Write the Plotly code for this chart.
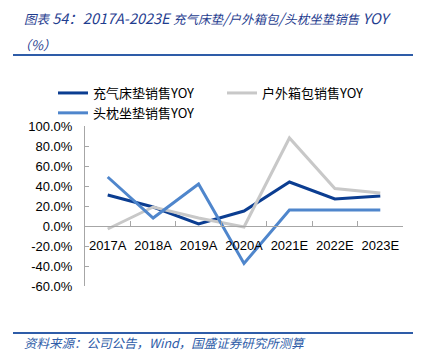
import plotly.graph_objects as go

categories = ["2017A", "2018A", "2019A", "2020A", "2021E", "2022E", "2023E"]
mattress_yoy = [31, 19, 2, 15, 44, 27, 30]
outdoor_bag_yoy = [-3, 19, 8, -1, 88, 37.5, 33]
cushion_yoy = [49, 8, 42, -37.5, 16, 16, 16]
series_names = ["充气床垫销售YOY", "户外箱包销售YOY", "头枕坐垫销售YOY"]
series_colors = ["#0B3D91", "#C8C8C8", "#4F86CC"]
y_ticks = [-60, -40, -20, 0, 20, 40, 60, 80, 100]

title_parts = [("图表", "cjk"), (" 54：2017A-2023E ", "lat"), ("充气床垫", "cjk"), ("/", "lat"),
               ("户外箱包", "cjk"), ("/", "lat"), ("头枕坐垫销售", "cjk"), (" YOY", "lat")]
subtitle_text = "（%）"
source_text = "资料来源：公司公告，Wind，国盛证券研究所测算"

W, H = 425, 355
L, R, T, B = 85, 22, 126, 69

fig = go.Figure()
for name, vals, col in zip(series_names, [mattress_yoy, outdoor_bag_yoy, cushion_yoy], series_colors):
    fig.add_trace(go.Scatter(x=categories, y=vals, name=name, mode="lines",
                             line=dict(color=col, width=3)))

axis_font = dict(family="Liberation Sans, Arial, sans-serif", size=13, color="#000000")
zero_pos = (0 - (-60)) / (100 - (-60))

def px_y(py):
    return (H - B - py) / (H - T - B)
def px_x(pxx):
    return (pxx - L) / (W - L - R)

fig.update_layout(
    width=W, height=H,
    margin=dict(l=L, r=R, t=T, b=B),
    paper_bgcolor="white", plot_bgcolor="white",
    font=axis_font,
    showlegend=True,
    legend=dict(orientation="h", x=px_x(53), xanchor="left",
                y=px_y(78), yanchor="top",
                entrywidth=124, entrywidthmode="pixels",
                font=dict(family="Noto Sans CJK SC, Liberation Sans, sans-serif", size=13, color="#000"),
                tracegroupgap=0, itemwidth=30, bgcolor="rgba(0,0,0,0)"),
    xaxis=dict(type="category", range=[-0.5, 6.5], anchor="free", position=zero_pos,
               showline=True, linecolor="#A6A6A6", linewidth=1,
               ticks="inside", ticklen=5, tickcolor="#A6A6A6", tickson="boundaries",
               showgrid=False, zeroline=False, tickfont=axis_font, tickangle=0,
               ticklabelstandoff=7),
    yaxis=dict(range=[-60, 100], tickvals=y_ticks,
               ticktext=[f"{v:.1f}%" for v in y_ticks],
               showline=True, linecolor="#A6A6A6", linewidth=1,
               ticks="inside", ticklen=4, tickcolor="#A6A6A6",
               showgrid=False, zeroline=False, tickfont=axis_font,
               ticklabelstandoff=9),
)

title_html = "".join(
    f"<span style='font-size:{12.5 if kind == 'cjk' else 14.5}px'>{txt}</span>" for txt, kind in title_parts)
title_font = dict(family="Noto Sans CJK SC, sans-serif", size=14, color="#1F3D8F", style="italic")
fig.add_annotation(text=title_html, xref="paper", yref="paper",
                   x=px_x(22), xanchor="left",
                   y=px_y(17), yanchor="middle",
                   showarrow=False, font=title_font)
fig.add_annotation(text=subtitle_text, xref="paper", yref="paper",
                   x=px_x(16), xanchor="left",
                   y=px_y(44), yanchor="middle",
                   showarrow=False, font=dict(family="Noto Sans CJK SC, sans-serif", size=13,
                                              color="#1F3D8F", style="italic"))
fig.add_annotation(text=source_text, xref="paper", yref="paper",
                   x=px_x(22), xanchor="left",
                   y=px_y(342), yanchor="middle",
                   showarrow=False,
                   font=dict(family="Noto Sans CJK SC, sans-serif", size=12.5, color="#2E5CA8", style="italic"))

for yy in (55, 333):
    fig.add_shape(type="line", xref="paper", yref="paper",
                  x0=px_x(13), x1=px_x(413), y0=px_y(yy), y1=px_y(yy),
                  line=dict(color="#2E5CA8", width=2))

fig.write_html("out.html", config={"displayModeBar": False},
               post_script="document.body.style.margin='0';")
